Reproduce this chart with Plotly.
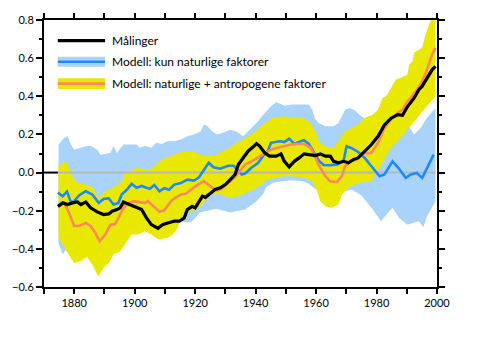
import plotly.graph_objects as go

# ---------------- data ----------------
obs_years = [1874.6, 1876.2, 1877.8, 1879.4, 1881.1, 1882.2, 1883.8, 1885.4, 1887.6, 1889.7,
             1891.4, 1892.5, 1894.1, 1895.2, 1896.3, 1898.4, 1900.6, 1902.3, 1903.9, 1905.5,
             1907.7, 1909.2, 1910.9, 1913.1, 1914.8, 1916.4, 1917.4, 1919.0, 1920.0, 1921.3,
             1922.4, 1923.4, 1925.0, 1926.6, 1928.3, 1930.0, 1931.6, 1933.2, 1934.3, 1935.9,
             1937.5, 1939.2, 1940.3, 1941.4, 1943.0, 1944.6, 1946.8, 1948.4, 1949.5, 1951.1,
             1952.8, 1954.4, 1956.0, 1957.6, 1959.8, 1961.4, 1963.1, 1964.7, 1965.8, 1967.4,
             1969.1, 1970.7, 1972.3, 1973.9, 1976.1, 1978.3, 1980.5, 1982.6, 1984.8, 1987.0,
             1988.6, 1990.2, 1992.4, 1994.0, 1995.1, 1996.7, 1998.4, 1999.5]
obs_values = [-0.177, -0.159, -0.168, -0.159, -0.154, -0.168, -0.154, -0.185, -0.206, -0.220,
              -0.217, -0.203, -0.194, -0.185, -0.154, -0.168, -0.185, -0.194, -0.238, -0.273,
              -0.292, -0.273, -0.264, -0.255, -0.255, -0.238, -0.194, -0.177, -0.185, -0.150,
              -0.124, -0.130, -0.107, -0.089, -0.080, -0.063, -0.037, -0.010, 0.042, 0.077,
              0.112, 0.135, 0.152, 0.138, 0.103, 0.086, 0.086, 0.098, 0.059, 0.030,
              0.059, 0.077, 0.098, 0.094, 0.089, 0.098, 0.086, 0.086, 0.059, 0.051,
              0.059, 0.051, 0.068, 0.077, 0.112, 0.147, 0.190, 0.250, 0.285, 0.304,
              0.300, 0.345, 0.390, 0.435, 0.453, 0.497, 0.540, 0.557]

nat_years = [1874.6, 1876.2, 1877.6, 1878.9, 1880.0, 1881.6, 1883.8, 1886.0, 1888.1, 1889.7,
             1891.4, 1893.0, 1894.6, 1895.7, 1897.4, 1899.0, 1900.6, 1902.3, 1903.9, 1905.0,
             1906.5, 1908.2, 1909.8, 1911.4, 1913.1, 1915.3, 1917.4, 1919.6, 1921.3, 1922.9,
             1924.5, 1926.1, 1928.3, 1931.0, 1932.7, 1934.3, 1935.4, 1936.5, 1938.6, 1940.8,
             1942.4, 1944.1, 1945.1, 1947.9, 1949.5, 1951.1, 1952.8, 1954.4, 1956.0, 1957.6,
             1959.3, 1960.9, 1962.5, 1964.5, 1967.0, 1969.1, 1970.1, 1971.8, 1973.9, 1976.1,
             1978.3, 1981.0, 1982.6, 1985.3, 1987.2, 1989.7, 1991.3, 1993.3, 1995.1, 1996.7,
             1998.9]
nat_values = [-0.105, -0.124, -0.100, -0.155, -0.150, -0.120, -0.098, -0.115, -0.159, -0.138,
              -0.135, -0.168, -0.160, -0.115, -0.090, -0.059, -0.080, -0.070, -0.080, -0.085,
              -0.065, -0.098, -0.082, -0.090, -0.063, -0.055, -0.037, -0.042, -0.025, 0.010,
              0.051, 0.028, 0.020, 0.036, 0.036, 0.010, -0.010, -0.005, 0.025, 0.050,
              0.086, 0.115, 0.156, 0.164, 0.160, 0.178, 0.150, 0.160, 0.170, 0.150,
              0.105, 0.062, 0.040, 0.038, 0.042, 0.062, 0.138, 0.128, 0.108, 0.077,
              0.033, -0.019, -0.010, 0.059, 0.025, -0.028, -0.010, -0.002, -0.028, 0.020,
              0.094]

nat_hi_years = [1874.8, 1876.7, 1877.8, 1878.9, 1880.0, 1882.0, 1883.8, 1885.4, 1887.6, 1888.7,
                1890.3, 1891.9, 1893.0, 1894.1, 1896.3, 1898.4, 1900.6, 1901.7, 1903.4, 1905.5,
                1907.1, 1909.0, 1910.9, 1913.1, 1915.3, 1917.4, 1919.6, 1921.8, 1922.9, 1923.9,
                1925.6, 1927.2, 1929.4, 1931.6, 1933.7, 1935.9, 1938.1, 1940.3, 1942.4, 1944.6,
                1946.8, 1949.5, 1952.2, 1954.9, 1957.6, 1958.7, 1959.8, 1960.9, 1963.1, 1965.8,
                1967.4, 1969.6, 1971.2, 1972.8, 1975.0, 1977.0, 1980.0, 1984.0, 1988.0, 1990.5,
                1992.4, 1994.6, 1996.7, 1998.4, 1999.5]
nat_hi_values = [0.147, 0.182, 0.190, 0.147, 0.120, 0.130, 0.138, 0.140, 0.120, 0.094,
                 0.100, 0.103, 0.138, 0.103, 0.147, 0.147, 0.147, 0.130, 0.140, 0.130,
                 0.156, 0.150, 0.164, 0.164, 0.173, 0.190, 0.200, 0.217, 0.252, 0.245,
                 0.217, 0.200, 0.210, 0.225, 0.215, 0.190, 0.225, 0.260, 0.300, 0.340,
                 0.370, 0.350, 0.357, 0.357, 0.357, 0.330, 0.278, 0.260, 0.243, 0.243,
                 0.260, 0.330, 0.339, 0.325, 0.295, 0.275, 0.270, 0.250, 0.250, 0.250,
                 0.200, 0.234, 0.287, 0.321, 0.339]

nat_lo_years = [1874.8, 1876.2, 1877.5, 1879.0, 1885.0, 1895.0, 1905.0, 1912.0, 1914.8, 1916.4,
                1918.5, 1920.0, 1921.5, 1924.0, 1927.0, 1929.5, 1931.6, 1934.3, 1936.5, 1938.6,
                1940.3, 1942.4, 1943.6, 1945.7, 1949.0, 1952.2, 1955.5, 1957.6, 1959.3, 1961.0,
                1965.0, 1969.0, 1971.8, 1975.0, 1978.3, 1981.5, 1983.7, 1985.3, 1987.5, 1990.2,
                1992.0, 1994.0, 1995.5, 1996.7, 1998.9, 1999.5]
nat_lo_values = [-0.370, -0.430, -0.400, -0.360, -0.350, -0.320, -0.300, -0.280, -0.250, -0.260,
                 -0.260, -0.240, -0.210, -0.200, -0.190, -0.200, -0.210, -0.200, -0.194, -0.170,
                 -0.150, -0.115, -0.075, -0.054, -0.046, -0.040, -0.046, -0.059, -0.080, -0.100,
                 -0.120, -0.100, -0.089, -0.120, -0.185, -0.255, -0.212, -0.185, -0.238, -0.273,
                 -0.265, -0.255, -0.285, -0.229, -0.168, -0.150]

all_years = [1874.8, 1876.7, 1878.3, 1880.0, 1881.6, 1883.8, 1885.4, 1887.0, 1888.4, 1890.3,
             1891.9, 1893.5, 1894.6, 1895.7, 1897.4, 1899.5, 1901.7, 1903.4, 1904.4, 1906.0,
             1908.2, 1909.8, 1912.0, 1913.6, 1915.3, 1917.0, 1918.5, 1920.2, 1922.9, 1925.0,
             1927.2, 1928.8, 1931.0, 1932.7, 1934.8, 1936.5, 1938.6, 1940.8, 1943.0, 1945.1,
             1947.3, 1949.5, 1951.7, 1953.8, 1955.9, 1958.2, 1959.8, 1961.4, 1963.1, 1964.7,
             1966.9, 1968.5, 1969.6, 1971.2, 1973.3, 1975.0, 1976.5, 1978.3, 1980.5, 1982.6,
             1984.8, 1987.0, 1988.6, 1990.2, 1991.3, 1993.5, 1995.1, 1996.7, 1998.4, 1999.5]
all_values = [-0.177, -0.159, -0.212, -0.280, -0.280, -0.264, -0.280, -0.316, -0.360, -0.325,
              -0.275, -0.270, -0.240, -0.203, -0.165, -0.150, -0.155, -0.159, -0.150, -0.175,
              -0.206, -0.198, -0.150, -0.130, -0.115, -0.110, -0.089, -0.070, -0.045, -0.072,
              -0.093, -0.085, -0.054, -0.030, 0.007, 0.042, 0.059, 0.080, 0.103, 0.120,
              0.130, 0.140, 0.147, 0.150, 0.150, 0.130, 0.077, 0.025, -0.019, -0.046,
              -0.050, -0.019, 0.033, 0.059, 0.068, 0.094, 0.103, 0.103, 0.156, 0.234,
              0.278, 0.313, 0.330, 0.374, 0.392, 0.435, 0.479, 0.540, 0.619, 0.654]

all_hi_years = [1874.8, 1876.7, 1877.8, 1878.9, 1879.4, 1881.1, 1883.8, 1886.0, 1888.1, 1890.3,
                1892.5, 1894.6, 1896.3, 1896.8, 1898.4, 1901.1, 1903.3, 1905.5, 1907.7, 1909.8,
                1912.0, 1914.2, 1916.4, 1918.5, 1920.7, 1922.9, 1925.0, 1927.2, 1929.4, 1931.6,
                1933.7, 1935.9, 1937.5, 1939.4, 1942.4, 1945.7, 1949.0, 1952.2, 1955.5, 1958.2,
                1959.8, 1960.9, 1963.1, 1965.8, 1967.4, 1969.6, 1971.8, 1974.0, 1976.1, 1978.8,
                1980.5, 1981.0, 1982.0, 1983.2, 1985.0, 1986.4, 1988.1, 1990.2, 1990.8, 1991.9,
                1992.4, 1995.1, 1996.2, 1997.8, 1999.5]
all_hi_values = [0.033, 0.059, 0.045, 0.000, -0.019, -0.054, -0.063, -0.075, -0.133, -0.098,
                 -0.080, -0.063, -0.028, 0.007, 0.010, 0.025, 0.016, 0.016, 0.051, 0.075,
                 0.086, 0.103, 0.112, 0.112, 0.103, 0.086, 0.090, 0.094, 0.115, 0.130,
                 0.156, 0.173, 0.190, 0.208, 0.252, 0.287, 0.295, 0.290, 0.287, 0.260,
                 0.217, 0.164, 0.138, 0.130, 0.164, 0.215, 0.234, 0.255, 0.287, 0.304,
                 0.330, 0.348, 0.392, 0.400, 0.450, 0.488, 0.497, 0.514, 0.566, 0.584,
                 0.628, 0.654, 0.724, 0.793, 0.850]

all_lo_years = [1874.8, 1875.6, 1877.3, 1880.0, 1882.0, 1884.3, 1886.0, 1887.9, 1889.7, 1891.4,
                1893.0, 1895.2, 1897.4, 1899.0, 1901.1, 1903.3, 1905.5, 1907.7, 1910.9, 1912.6,
                1914.2, 1915.3, 1916.4, 1919.5, 1921.3, 1922.9, 1925.0, 1927.2, 1929.4, 1931.6,
                1933.0, 1935.9, 1939.4, 1942.0, 1943.6, 1945.7, 1949.0, 1952.2, 1955.5, 1958.7,
                1960.4, 1961.4, 1963.1, 1965.2, 1967.4, 1968.5, 1970.7, 1972.8, 1975.0, 1978.3,
                1979.4, 1981.0, 1982.6, 1984.8, 1987.0, 1988.6, 1991.3, 1993.5, 1995.7, 1997.8,
                1999.5]
all_lo_values = [-0.350, -0.360, -0.410, -0.474, -0.465, -0.443, -0.483, -0.544, -0.500, -0.474,
                 -0.430, -0.413, -0.360, -0.325, -0.325, -0.308, -0.325, -0.350, -0.343, -0.325,
                 -0.290, -0.238, -0.205, -0.200, -0.185, -0.160, -0.120, -0.107, -0.120, -0.133,
                 -0.130, -0.115, -0.089, -0.063, -0.037, -0.028, -0.019, -0.019, -0.025, -0.046,
                 -0.098, -0.150, -0.177, -0.185, -0.168, -0.115, -0.080, -0.063, -0.052, -0.046,
                 -0.010, 0.025, 0.068, 0.130, 0.164, 0.200, 0.252, 0.290, 0.330, 0.370,
                 0.400]

legend_labels = ["Målinger", "Modell: kun naturlige faktorer",
                 "Modell: naturlige + antropogene faktorer"]
x_range = [1870, 2000]
y_range = [-0.6, 0.8]

# ---------------- style ----------------
FONT = "Lato, 'Open Sans', sans-serif"
C_OBS = "#000000"
C_NAT = "#1a8cff"
C_NAT_BAND = "#a9d3fa"
C_ALL = "#fc8a5a"
C_ALL_BAND = "#e8e800"
C_ZERO = "#b8b8b8"

W, H = 480, 352
ML, MR, MT, MB = 38, 43, 20, 65
PW, PH = W - ML - MR, H - MT - MB


def px(x):
    return (x - ML) / PW


def py(y):
    return 1 - (y - MT) / PH


fig = go.Figure()


def band(xs_hi, ys_hi, xs_lo, ys_lo, color):
    fig.add_trace(go.Scatter(
        x=list(xs_hi) + list(xs_lo)[::-1],
        y=list(ys_hi) + list(ys_lo)[::-1],
        fill="toself", fillcolor=color, mode="lines",
        line=dict(width=0, color=color), hoverinfo="skip", showlegend=False))


band(nat_hi_years, nat_hi_values, nat_lo_years, nat_lo_values, C_NAT_BAND)
band(all_hi_years, all_hi_values, all_lo_years, all_lo_values, C_ALL_BAND)

# zero reference line across the data span
fig.add_trace(go.Scatter(x=[obs_years[0], obs_years[-1]], y=[0, 0], mode="lines",
                         line=dict(color=C_ZERO, width=2), hoverinfo="skip",
                         showlegend=False))

fig.add_trace(go.Scatter(x=nat_years, y=nat_values, mode="lines",
                         line=dict(color=C_NAT, width=2.6), showlegend=False))
fig.add_trace(go.Scatter(x=all_years, y=all_values, mode="lines",
                         line=dict(color=C_ALL, width=2.6), showlegend=False))
fig.add_trace(go.Scatter(x=obs_years, y=obs_values, mode="lines",
                         line=dict(color=C_OBS, width=3.2), showlegend=False))

shapes = [
    # inner part of the zero tick
    dict(type="line", xref="x", yref="y", x0=x_range[0], x1=obs_years[0], y0=0, y1=0,
         line=dict(color="black", width=2)),
    # legend samples
    dict(type="line", xref="paper", yref="paper", x0=px(52), x1=px(100),
         y0=py(40.7), y1=py(40.7), line=dict(color=C_OBS, width=3.2)),
    dict(type="rect", xref="paper", yref="paper", x0=px(52), x1=px(100),
         y0=py(56.7), y1=py(66.7), fillcolor=C_NAT_BAND, line=dict(width=0)),
    dict(type="line", xref="paper", yref="paper", x0=px(52), x1=px(100),
         y0=py(61.7), y1=py(61.7), line=dict(color=C_NAT, width=2.6)),
    dict(type="rect", xref="paper", yref="paper", x0=px(52), x1=px(100),
         y0=py(78.3), y1=py(89), fillcolor=C_ALL_BAND, line=dict(width=0)),
    dict(type="line", xref="paper", yref="paper", x0=px(52), x1=px(100),
         y0=py(83.6), y1=py(83.6), line=dict(color=C_ALL, width=2.6)),
]

annotations = []
for label, ypix in zip(legend_labels, [40.7, 61.7, 83.3]):
    annotations.append(dict(text=label, xref="paper", yref="paper", x=px(105), y=py(ypix),
                            xanchor="left", yanchor="middle", showarrow=False,
                            font=dict(family=FONT, size=12, color="black")))

axis_common = dict(showgrid=False, zeroline=False, showline=True, linecolor="black",
                   linewidth=2, mirror="allticks", ticks="outside", tickcolor="black",
                   tickwidth=1.5, tickfont=dict(family=FONT, size=11, color="black"))

fig.update_layout(
    width=W, height=H, margin=dict(l=ML, r=MR, t=MT, b=MB),
    paper_bgcolor="white", plot_bgcolor="white",
    shapes=shapes, annotations=annotations, showlegend=False,
    xaxis=dict(range=x_range, tick0=1880, dtick=20, ticklen=5,
               minor=dict(tick0=1870, dtick=10, ticklen=5, ticks="outside",
                          tickcolor="black", tickwidth=1.5, showgrid=False),
               **axis_common),
    yaxis=dict(range=y_range, tick0=-0.6, dtick=0.2, tickformat=".1f", ticklen=6,
               minor=dict(dtick=0.1, ticklen=3, ticks="outside", tickcolor="black",
                          tickwidth=1.5, showgrid=False),
               **axis_common),
)

fig.write_html("out.html")
